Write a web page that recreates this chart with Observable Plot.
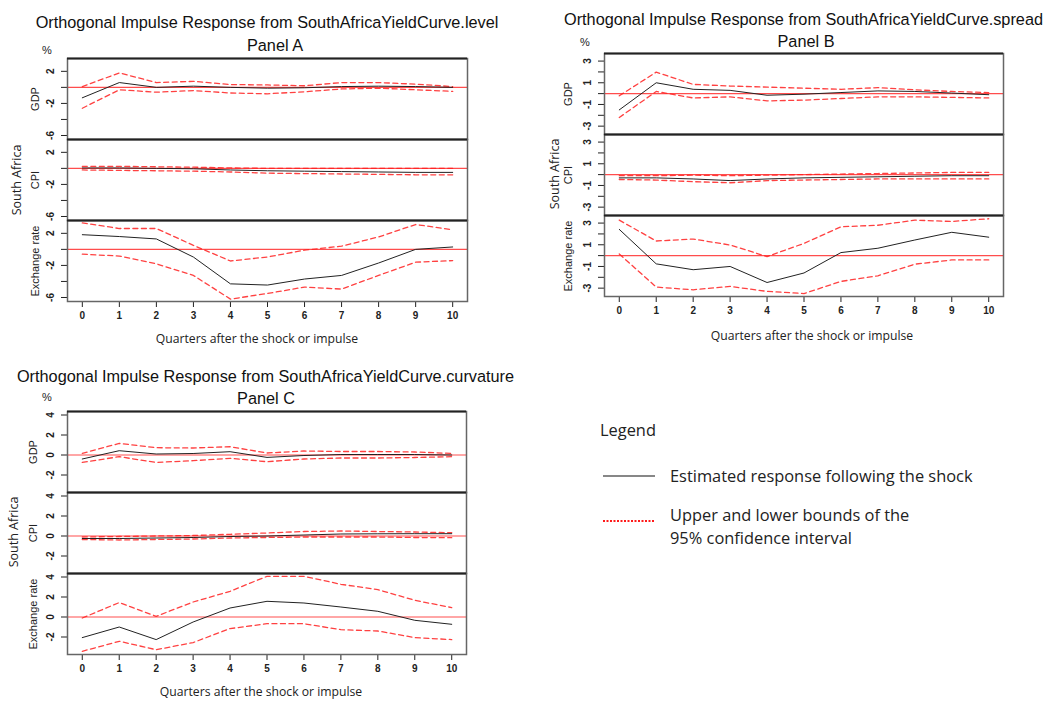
<!DOCTYPE html>
<html><head><meta charset="utf-8">
<script src="https://cdn.jsdelivr.net/npm/d3@7"></script>
<script src="https://cdn.jsdelivr.net/npm/@observablehq/plot@0.6"></script>
<style>
body{margin:0;background:#fff;}
#root{position:relative;width:1046px;height:702px;overflow:hidden;background:#fff;}
.t{position:absolute;white-space:nowrap;color:#111;line-height:1.15;}
.title{font-family:"Liberation Sans",Arial,sans-serif;font-size:16.3px;transform:translate(-50%,-50%);}
.xl{font-family:"Open Sans",sans-serif;font-size:12.2px;transform:translate(-50%,-50%);color:#222;}
.sa{font-family:"Open Sans",sans-serif;font-size:12.5px;transform:translate(-50%,-50%) rotate(-90deg);color:#222;}
.pct{font-family:"Liberation Sans",Arial,sans-serif;font-size:11px;transform:translate(-50%,-50%);color:#222;}
.leg{font-family:"Open Sans",sans-serif;font-size:16.4px;color:#222;transform:translateY(-50%);}
.plot{position:absolute;}
</style></head>
<body><div id="root"></div>
<script>
// ---------- data ----------
const quarters = [0, 1, 2, 3, 4, 5, 6, 7, 8, 9, 10];
const variables = ["GDP", "CPI", "Exchange rate"];

// Panel A: shock from SouthAfricaYieldCurve.level
const aGdpEst = [-1.3, 0.6, 0.0, 0.15, 0.0, -0.1, -0.05, 0.1, 0.15, 0.1, 0.0];
const aGdpHi  = [0.1, 1.8, 0.6, 0.75, 0.35, 0.3, 0.2, 0.6, 0.6, 0.4, 0.1];
const aGdpLo  = [-2.6, -0.3, -0.6, -0.4, -0.7, -0.8, -0.55, -0.2, -0.1, -0.3, -0.5];
const aCpiEst = [0.05, 0.05, 0.0, -0.05, -0.2, -0.3, -0.35, -0.4, -0.45, -0.5, -0.5];
const aCpiHi  = [0.25, 0.25, 0.2, 0.15, 0.05, 0.0, 0.0, 0.0, 0.0, 0.0, 0.0];
const aCpiLo  = [-0.2, -0.25, -0.3, -0.35, -0.45, -0.6, -0.65, -0.7, -0.75, -0.8, -0.8];
const aErEst  = [1.83, 1.6, 1.3, -0.96, -4.3, -4.45, -3.7, -3.25, -1.7, 0.0, 0.3];
const aErHi   = [3.3, 2.6, 2.6, 0.5, -1.45, -0.95, -0.1, 0.4, 1.55, 3.1, 2.45];
const aErLo   = [-0.6, -0.83, -1.8, -3.25, -6.2, -5.5, -4.7, -4.95, -3.25, -1.6, -1.4];

// Panel B: shock from SouthAfricaYieldCurve.spread
const bGdpEst = [-1.5, 1.0, 0.4, 0.3, -0.15, -0.05, 0.1, 0.25, 0.2, 0.05, -0.1];
const bGdpHi  = [-0.2, 1.98, 0.85, 0.7, 0.6, 0.5, 0.4, 0.55, 0.35, 0.2, 0.1];
const bGdpLo  = [-2.2, 0.2, -0.4, -0.3, -0.67, -0.6, -0.45, -0.3, -0.3, -0.35, -0.4];
const bCpiEst = [-0.3, -0.3, -0.4, -0.55, -0.4, -0.3, -0.25, -0.2, -0.15, -0.1, -0.1];
const bCpiHi  = [-0.1, -0.1, -0.05, -0.1, -0.05, 0.0, 0.05, 0.1, 0.15, 0.2, 0.2];
const bCpiLo  = [-0.45, -0.5, -0.65, -0.75, -0.55, -0.5, -0.45, -0.4, -0.4, -0.4, -0.4];
const bErEst  = [2.42, -0.76, -1.3, -1.0, -2.48, -1.6, 0.28, 0.68, 1.44, 2.15, 1.7];
const bErHi   = [3.27, 1.35, 1.53, 0.98, -0.09, 1.13, 2.66, 2.8, 3.27, 3.15, 3.4];
const bErLo   = [0.15, -2.9, -3.15, -2.84, -3.3, -3.5, -2.38, -1.86, -0.79, -0.4, -0.4];

// Panel C: shock from SouthAfricaYieldCurve.curvature
const cGdpEst = [-0.4, 0.43, 0.1, 0.15, 0.33, -0.24, -0.05, 0.05, 0.05, 0.05, 0.0];
const cGdpHi  = [0.16, 1.16, 0.73, 0.7, 0.83, 0.2, 0.4, 0.35, 0.35, 0.3, 0.16];
const cGdpLo  = [-0.74, -0.17, -0.74, -0.57, -0.33, -0.67, -0.4, -0.3, -0.3, -0.25, -0.17];
const cCpiEst = [-0.25, -0.25, -0.2, -0.15, -0.05, 0.0, 0.1, 0.2, 0.22, 0.23, 0.23];
const cCpiHi  = [-0.1, -0.05, 0.0, 0.05, 0.17, 0.3, 0.45, 0.5, 0.45, 0.4, 0.33];
const cCpiLo  = [-0.35, -0.4, -0.35, -0.3, -0.2, -0.15, -0.1, -0.1, -0.1, -0.15, -0.17];
const cErEst  = [-2.06, -1.0, -2.26, -0.5, 0.9, 1.57, 1.4, 1.0, 0.57, -0.33, -0.73];
const cErHi   = [-0.1, 1.44, 0.07, 1.5, 2.57, 4.07, 4.07, 3.27, 2.74, 1.67, 0.94];
const cErLo   = [-3.43, -2.43, -3.27, -2.56, -1.16, -0.67, -0.67, -1.27, -1.4, -2.06, -2.26];

// y-axis ticks and which of them carry labels
const aTicks = [-6, -4, -2, 0, 2],        aLabels = [-6, -2, 2];
const bTicks = [-3, -2, -1, 0, 1, 2, 3],  bLabels = [-3, -1, 1, 3];
const cTicks = [-2, 0, 2, 4],             cLabels = [-2, 0, 2, 4];

const titles = [
  "Orthogonal Impulse Response from SouthAfricaYieldCurve.level",
  "Orthogonal Impulse Response from SouthAfricaYieldCurve.spread",
  "Orthogonal Impulse Response from SouthAfricaYieldCurve.curvature"
];
const panelNames = ["Panel A", "Panel B", "Panel C"];
const xTitle = "Quarters after the shock or impulse";

// ---------- helpers ----------
function buildRows(est, hi, lo) {
  const rows = [];
  variables.forEach((v, i) => {
    [["est", est[i]], ["hi", hi[i]], ["lo", lo[i]]].forEach(([s, arr]) => {
      quarters.forEach((q, j) => rows.push({variable: v, series: s, q, value: arr[j]}));
    });
  });
  return rows;
}

const root = document.getElementById("root");
function addText(cls, text, x, y) {
  const d = document.createElement("div");
  d.className = "t " + cls;
  d.textContent = text;
  d.style.left = x + "px";
  d.style.top = y + "px";
  root.appendChild(d);
  return d;
}

function makePanel(cfg) {
  const rows = cfg.rows;
  const plot = Plot.plot({
    width: cfg.width,
    height: cfg.height,
    marginLeft: cfg.ml, marginRight: cfg.mr, marginTop: cfg.mt, marginBottom: cfg.mb,
    style: {background: "transparent", fontFamily: "'Liberation Sans', Arial, sans-serif", fontSize: "10px", fontWeight: "bold", color: "#222", overflow: "visible"},
    facet: {data: rows, y: "variable"},
    fy: {domain: variables, padding: 0, axis: null, label: null},
    x: {domain: [-0.4, 10.4], ticks: quarters, tickFormat: d => String(d), tickSize: 6, tickPadding: 4, label: null},
    y: {domain: cfg.domain, ticks: cfg.ticks, tickFormat: d => cfg.labels.includes(d) ? String(d) : "",
        tickRotate: -90, tickSize: 6, tickPadding: 8, label: null},
    marks: [
      Plot.ruleY([0], {stroke: "#ff2020", strokeWidth: 1.2, strokeOpacity: 0.8}),
      Plot.line(rows, {filter: d => d.series !== "est", x: "q", y: "value", z: "series",
        stroke: "#ff2020", strokeWidth: 1.3, strokeOpacity: 0.85, strokeDasharray: "5,3.5"}),
      Plot.line(rows, {filter: d => d.series === "est", x: "q", y: "value",
        stroke: "#222", strokeWidth: 1}),
      Plot.frame({stroke: "#666", strokeWidth: 1.5}),
      Plot.ruleY([cfg.domain[1]], {stroke: "#222", strokeWidth: 2}),
      Plot.text(rows, Plot.selectFirst({text: "variable", frameAnchor: "left", rotate: -90, dx: -cfg.labelDx,
        textAnchor: "middle", lineAnchor: "middle",
        fontFamily: "'Liberation Sans', Arial, sans-serif", fontSize: 11, fontWeight: "normal", fill: "#222"}))
    ]
  });
  plot.classList.add("plot");
  plot.style.left = cfg.left + "px";
  plot.style.top = cfg.top + "px";
  root.appendChild(plot);
}

// ---------- panels ----------
makePanel({rows: buildRows([aGdpEst, aCpiEst, aErEst], [aGdpHi, aCpiHi, aErHi], [aGdpLo, aCpiLo, aErLo]),
  domain: [-6.5, 3.6], ticks: aTicks, labels: aLabels,
  left: 0, top: 50, width: 480, height: 300, ml: 67, mr: 13, mt: 7, mb: 49, labelDx: 32});
makePanel({rows: buildRows([bGdpEst, bCpiEst, bErEst], [bGdpHi, bCpiHi, bErHi], [bGdpLo, bCpiLo, bErLo]),
  domain: [-3.77, 3.7], ticks: bTicks, labels: bLabels,
  left: 520, top: 45, width: 526, height: 300, ml: 84, mr: 43, mt: 7, mb: 48, labelDx: 36});
makePanel({rows: buildRows([cGdpEst, cCpiEst, cErEst], [cGdpHi, cCpiHi, cErHi], [cGdpLo, cCpiLo, cErLo]),
  domain: [-3.75, 4.35], ticks: cTicks, labels: cLabels,
  left: 0, top: 404, width: 480, height: 298, ml: 67, mr: 14, mt: 7, mb: 48, labelDx: 34});

// titles and labels
addText("title", titles[0], 267, 22);
addText("title", panelNames[0], 275, 45);
addText("title", titles[1], 803.5, 19);
addText("title", panelNames[1], 806, 41);
addText("title", titles[2], 265.5, 376);
addText("title", panelNames[2], 266, 398);

addText("xl", xTitle, 257, 339);
addText("xl", xTitle, 812, 336);
addText("xl", xTitle, 261, 692);

addText("sa", "South Africa", 17, 180);
addText("sa", "South Africa", 555, 174);
addText("sa", "South Africa", 14, 532);

addText("pct", "%", 47, 50);
addText("pct", "%", 585, 42);
addText("pct", "%", 47, 397);

// legend
addText("leg", "Legend", 600, 430);
addText("leg", "Estimated response following the shock", 670, 476);
addText("leg", "Upper and lower bounds of the", 670, 515);
addText("leg", "95% confidence interval", 670, 538);
const ns = "http://www.w3.org/2000/svg";
const lsvg = document.createElementNS(ns, "svg");
lsvg.setAttribute("width", 70); lsvg.setAttribute("height", 70);
lsvg.style.position = "absolute"; lsvg.style.left = "595px"; lsvg.style.top = "460px";
const l1 = document.createElementNS(ns, "line");
l1.setAttribute("x1", 8); l1.setAttribute("x2", 60); l1.setAttribute("y1", 16); l1.setAttribute("y2", 16);
l1.setAttribute("stroke", "#111"); l1.setAttribute("stroke-width", 1.2);
const l2 = document.createElementNS(ns, "line");
l2.setAttribute("x1", 8); l2.setAttribute("x2", 60); l2.setAttribute("y1", 61); l2.setAttribute("y2", 61);
l2.setAttribute("stroke", "#ff1a1a"); l2.setAttribute("stroke-width", 2); l2.setAttribute("stroke-dasharray", "2,1.5");
lsvg.appendChild(l1); lsvg.appendChild(l2);
root.appendChild(lsvg);
</script>
</body></html>
